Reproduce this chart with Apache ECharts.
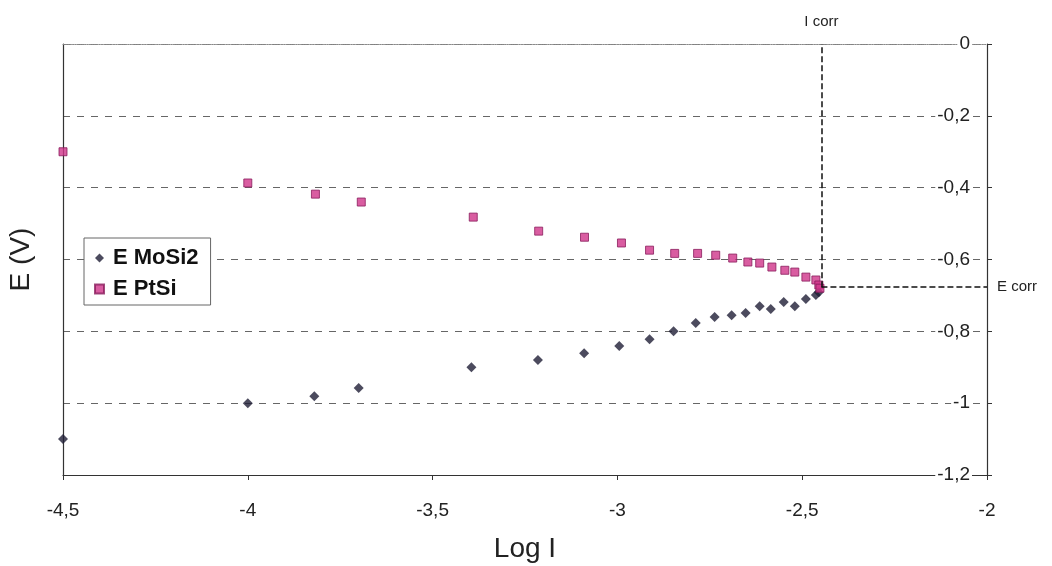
<!DOCTYPE html>
<html>
<head>
<meta charset="utf-8">
<script src="https://cdn.jsdelivr.net/npm/echarts@6/dist/echarts.min.js"></script>
<style>
html,body{margin:0;padding:0;background:#fff;}
#c{width:1052px;height:566px;}
</style>
</head>
<body>
<div id="c"></div>
<script>
// Data
const mosiX = [-4.5, -4.0, -3.82, -3.70, -3.395, -3.215, -3.09, -2.995, -2.913, -2.848, -2.788, -2.737, -2.691, -2.653, -2.615, -2.585, -2.55, -2.52, -2.49, -2.463, -2.455];
const mosiY = [-1.10, -1.0, -0.981, -0.958, -0.90, -0.88, -0.861, -0.841, -0.822, -0.80, -0.777, -0.760, -0.755, -0.749, -0.730, -0.738, -0.718, -0.730, -0.710, -0.699, -0.691];
const ptsiX = [-4.5, -4.0, -3.817, -3.693, -3.39, -3.213, -3.089, -2.989, -2.913, -2.845, -2.783, -2.734, -2.688, -2.647, -2.615, -2.582, -2.547, -2.52, -2.49, -2.463, -2.455, -2.452];
const ptsiY = [-0.30, -0.387, -0.418, -0.44, -0.482, -0.521, -0.538, -0.554, -0.574, -0.583, -0.583, -0.588, -0.596, -0.607, -0.61, -0.621, -0.63, -0.635, -0.649, -0.657, -0.671, -0.68];
const seriesNames = ['E MoSi2', 'E PtSi'];
const iCorr = -2.448;
const eCorr = -0.677;
const xMin = -4.5, xMax = -2, xStep = 0.5;
const yMin = -1.2, yMax = 0, yStep = 0.2;

const fmt = v => String(Number(v.toFixed(1))).replace('.', ',');
const FONT = '"Liberation Sans", Arial, sans-serif';

const chart = echarts.init(document.getElementById('c'), null, {renderer: 'canvas'});
chart.setOption({
  animation: false,
  backgroundColor: '#fff',
  textStyle: {fontFamily: FONT},
  grid: {left: 63, right: 65, top: 44, bottom: 91, containLabel: false, outerBoundsMode: 'none'},
  legend: {
    orient: 'vertical',
    left: 84, top: 238,
    width: 126,
    padding: [9, 12, 5, 10],
    itemGap: 9,
    itemWidth: 9, itemHeight: 9,
    backgroundColor: '#fff',
    borderColor: '#666', borderWidth: 1,
    textStyle: {fontFamily: FONT, fontWeight: 'bold', fontSize: 22, color: '#111', padding: [0, 0, 0, 4]},
    data: [
      {name: seriesNames[0], icon: 'diamond'},
      {name: seriesNames[1], icon: 'rect'}
    ]
  },
  xAxis: [{
    type: 'value', position: 'bottom',
    min: xMin, max: xMax, interval: xStep,
    axisLine: {show: true, onZero: false, lineStyle: {color: '#333', width: 1.2}},
    axisTick: {show: true, length: 5, lineStyle: {color: '#333'}},
    splitLine: {show: false},
    axisLabel: {fontSize: 19, color: '#222', margin: 26, formatter: fmt},
    name: 'Log I', nameLocation: 'middle', nameGap: 60,
    nameTextStyle: {fontSize: 28, color: '#222'}
  }, {
    type: 'value', position: 'top',
    min: xMin, max: xMax, interval: xStep,
    axisLine: {show: true, onZero: false, lineStyle: {color: '#888', type: 'dotted', width: 1.2}},
    axisTick: {show: false}, axisLabel: {show: false}, splitLine: {show: false}
  }],
  yAxis: [{
    type: 'value', position: 'right',
    min: yMin, max: yMax, interval: yStep,
    axisLine: {show: true, onZero: false, lineStyle: {color: '#333', width: 1.2}},
    axisTick: {show: true, inside: false, length: 5, lineStyle: {color: '#333'}},
    splitLine: {show: true, lineStyle: {color: '#666', type: [7, 7], width: 1}},
    axisLabel: {inside: true, margin: 15, fontSize: 19, color: '#222', formatter: fmt,
      backgroundColor: '#fff', padding: [0, 2]}
  }, {
    type: 'value', position: 'left',
    min: yMin, max: yMax, interval: yStep,
    axisLine: {show: true, onZero: false, lineStyle: {color: '#333', width: 1.2}},
    axisTick: {show: false}, axisLabel: {show: false}, splitLine: {show: false},
    name: 'E (V)', nameLocation: 'middle', nameGap: 28,
    nameTextStyle: {fontSize: 28, color: '#222'}
  }],
  series: [{
    name: seriesNames[0], type: 'scatter',
    xAxisIndex: 0, yAxisIndex: 0,
    symbol: 'diamond', symbolSize: 10, clip: false,
    itemStyle: {color: '#1f1e36'},
    data: mosiX.map((x, i) => [x, mosiY[i]]),
    markLine: {
      silent: true, symbol: 'none', animation: false,
      lineStyle: {color: '#111', type: [6, 3], width: 1.5},
      label: {show: true, position: 'end', fontSize: 15, color: '#222', fontFamily: FONT},
      data: [
        [{coord: [iCorr, eCorr]}, {coord: [iCorr, yMax], label: {formatter: 'I corr', distance: 15}}],
        [{coord: [iCorr, eCorr]}, {coord: [xMax, eCorr], label: {formatter: 'E corr', distance: 10}}]
      ]
    },
    z: 3
  }, {
    name: seriesNames[1], type: 'scatter',
    xAxisIndex: 0, yAxisIndex: 0,
    symbol: 'rect', symbolSize: 8, clip: false,
    itemStyle: {color: '#cf358a', borderColor: '#8a1d5c', borderWidth: 1},
    data: ptsiX.map((x, i) => [x, ptsiY[i]]),
    z: 4
  }]
});
</script>
</body>
</html>
